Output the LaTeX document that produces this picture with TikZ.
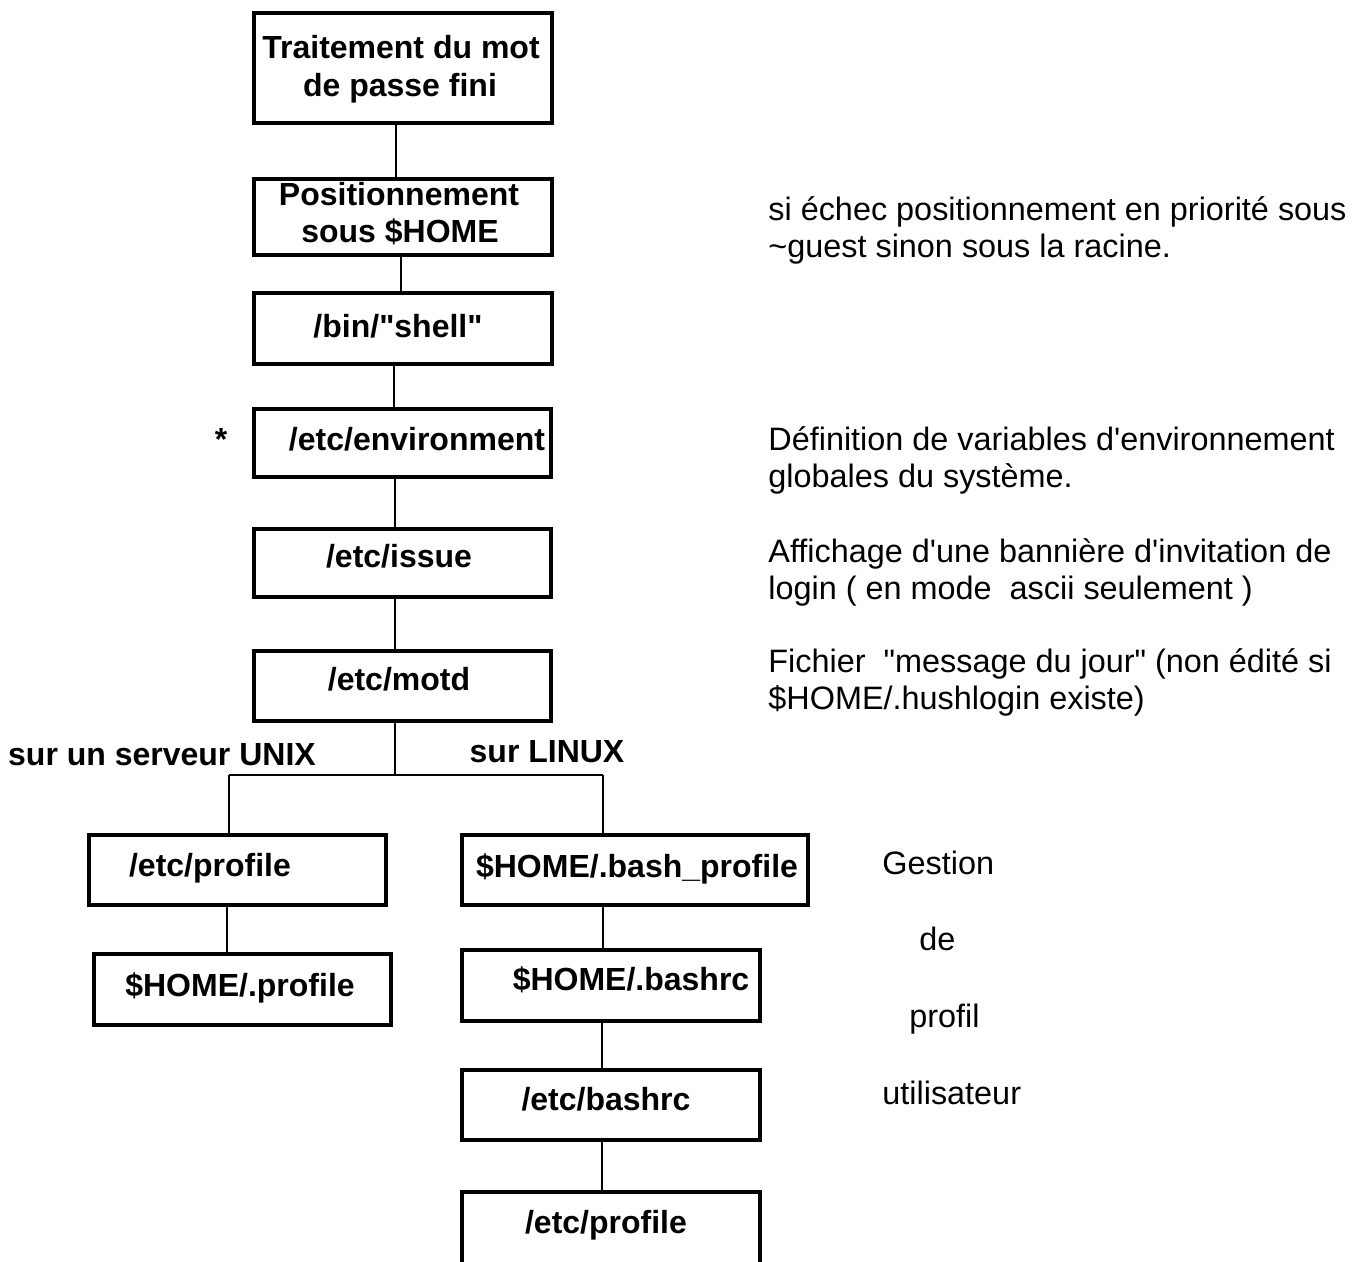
\documentclass[tikz,border=0pt]{standalone}
\usepackage{fontspec}
\setmainfont{Liberation Sans}
\begin{document}
\begin{tikzpicture}[x=0.5pt,y=-0.5pt,
  box/.style={draw, rectangle, line width=2pt, inner sep=0pt, outer sep=0pt},
  conn/.style={line width=1.2pt},
  btxt/.style={font=\bfseries\fontsize{16}{18}\selectfont, inner sep=0pt, anchor=base},
  ntxt/.style={font=\fontsize{16.2}{18}\selectfont, inner sep=0pt, anchor=base west}]
\clip (0,0) rectangle (1364,1262);
\fill[white] (0,0) rectangle (1364,1262);

% boxes
\node[box, minimum width=149pt, minimum height=55pt]   (b1) at (403,68) {};
\node[box, minimum width=149pt, minimum height=38pt]   (b2) at (403,217) {};
\node[box, minimum width=149pt, minimum height=35.5pt] (b3) at (403,328.5) {};
\node[box, minimum width=148.5pt, minimum height=34pt] (env) at (402.5,443) {};
\node[box, minimum width=148.5pt, minimum height=34pt] (iss) at (402.5,563) {};
\node[box, minimum width=148.5pt, minimum height=35pt] (motd) at (402.5,686) {};
\node[box, minimum width=148.5pt, minimum height=35pt] (lp) at (237.5,870) {};
\node[box, minimum width=148.5pt, minimum height=35.5pt] (hp) at (242.5,989.5) {};
\node[box, minimum width=173pt, minimum height=35pt]   (bp) at (635,870) {};
\node[box, minimum width=149pt, minimum height=35.5pt] (brc) at (611,985.5) {};
\node[box, minimum width=149pt, minimum height=35pt]   (ebrc) at (611,1105) {};
\node[box, minimum width=149pt, minimum height=54pt]   (eprof) at (611,1246) {};

% connectors
\draw[conn] ([xshift=-3.5pt]b1.south) -- ([xshift=-3.5pt]b1.south |- b2.north);
\draw[conn] ([xshift=-1pt]b2.south) -- ([xshift=-1pt]b2.south |- b3.north);
\draw[conn] ([xshift=-4.5pt]b3.south) -- ([xshift=-4.5pt]b3.south |- env.north);
\draw[conn] ([xshift=-3.75pt]env.south) -- ([xshift=-3.75pt]env.south |- iss.north);
\draw[conn] ([xshift=-3.75pt]iss.south) -- ([xshift=-3.75pt]iss.south |- motd.north);
\coordinate (j) at (395,775);
\coordinate (jl) at (229,775);
\coordinate (jr) at (603,775);
\draw[conn] (motd.south -| j) -- (j);
\draw[conn] (jl) -- (jr);
\draw[conn] (jl) -- (jl |- lp.north);
\draw[conn] (jr) -- (jr |- bp.north);
\draw[conn] ([xshift=-5.25pt]lp.south) -- ([xshift=-5.25pt]lp.south |- hp.north);
\draw[conn] ([xshift=-16pt]bp.south) -- ([xshift=-16pt]bp.south |- brc.north);
\draw[conn] ([xshift=-4.5pt]brc.south) -- ([xshift=-4.5pt]brc.south |- ebrc.north);
\draw[conn] ([xshift=-4.5pt]ebrc.south) -- ([xshift=-4.5pt]ebrc.south |- eprof.north);

% box texts
\node[btxt] (t1a) at (401,59) {Traitement du mot};
\node[btxt] (t1b) at (400,97) {de passe fini};
\node[btxt] (t2a) at (399,206) {Positionnement};
\node[btxt] (t2b) at (400,243) {sous \$HOME};
\node[btxt] (t3) at (398,337) {/bin/\textquotedbl shell\textquotedbl};
\node[btxt] (tenv) at (417,450) {/etc/environment};
\node[btxt] (tiss) at (399,567) {/etc/issue};
\node[btxt] (tmotd) at (399,690) {/etc/motd};
\node[btxt] (star) at (221,450) {*};
\node[btxt] (unix) at (162,765) {sur un serveur UNIX};
\node[btxt] (linux) at (547,762) {sur LINUX};
\node[btxt] (tlp) at (210,876) {/etc/profile};
\node[btxt] (thp) at (240,996) {\$HOME/.profile};
\node[btxt] (tbp) at (637,877) {\$HOME/.bash\_profile};
\node[btxt] (tbrc) at (631,990) {\$HOME/.bashrc};
\node[btxt] (tebrc) at (606,1110) {/etc/bashrc};
\node[btxt] (teprof) at (606,1233) {/etc/profile};

% side notes
\node[ntxt] (n1a) at (768,221) {si échec positionnement en priorité sous};
\node[ntxt] (n1b) at (768,258) {\textasciitilde guest sinon sous la racine.};
\node[ntxt] (n2a) at (768,450) {Définition de variables d\textquotesingle environnement};
\node[ntxt] (n2b) at (768,487) {globales du système.};
\node[ntxt] (n3a) at (768,562) {Affichage d\textquotesingle une bannière d\textquotesingle invitation de};
\node[ntxt] (n3b) at (768,599) {login ( en mode\ \ ascii seulement )};
\node[ntxt] (n4a) at (768,672) {Fichier\ \ \textquotedbl message du jour\textquotedbl{} (non édité si};
\node[ntxt] (n4b) at (768,709) {\$HOME/.hushlogin existe)};
\node[ntxt] (g1) at (882,874) {Gestion};
\node[ntxt] (g2) at (919,950) {de};
\node[ntxt] (g3) at (909,1027) {profil};
\node[ntxt] (g4) at (882,1104) {utilisateur};
\end{tikzpicture}
\end{document}
